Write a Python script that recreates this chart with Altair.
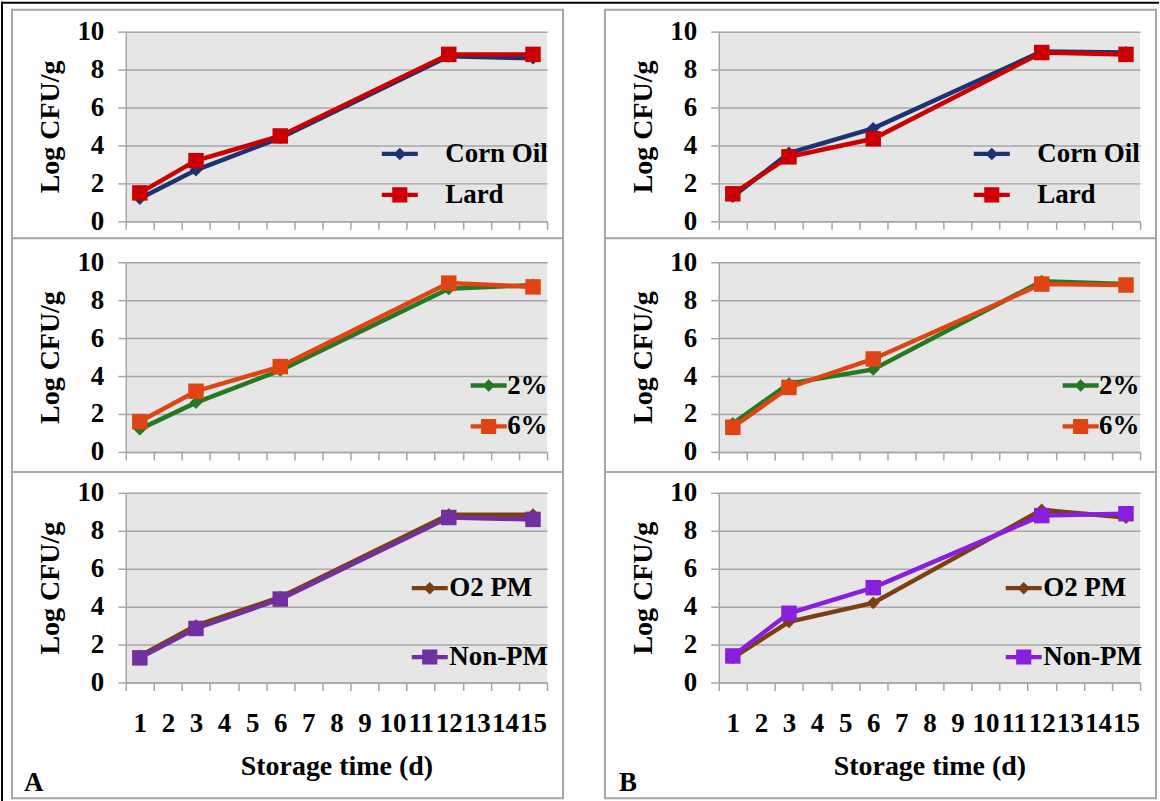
import altair as alt
import pandas as pd

# Storage days sampled and the full day axis
DAYS = [1, 3, 6, 12, 15]
AXIS_DAYS = list(range(1, 16))

# Panel A (log CFU/g)
A_CORN = [1.2, 2.7, 4.4, 8.7, 8.6]
A_LARD = [1.5, 3.2, 4.5, 8.8, 8.8]
A_2 = [1.2, 2.6, 4.3, 8.6, 8.8]
A_6 = [1.6, 3.2, 4.5, 8.9, 8.7]
A_O2 = [1.4, 3.0, 4.5, 8.85, 8.85]
A_NON = [1.3, 2.85, 4.4, 8.7, 8.6]

# Panel B (log CFU/g)
B_CORN = [1.3, 3.6, 4.9, 8.95, 8.9]
B_LARD = [1.45, 3.4, 4.35, 8.9, 8.8]
B_2 = [1.5, 3.6, 4.35, 9.0, 8.85]
B_6 = [1.3, 3.4, 4.9, 8.85, 8.8]
B_O2 = [1.3, 3.2, 4.2, 9.1, 8.7]
B_NON = [1.4, 3.65, 5.0, 8.8, 8.9]

FAT_NAMES = ["Corn Oil", "Lard"]
LEVEL_NAMES = ["2%", "6%"]
PACK_NAMES = ["O2 PM", "Non-PM"]

FAT_COLORS = ["#1c3272", "#cc0000"]
LEVEL_COLORS = ["#237a23", "#e04412"]
PACK_COLORS_A = ["#7b3f12", "#7030a0"]
PACK_COLORS_B = ["#7b3f12", "#8a1ee0"]

FONT = "Liberation Serif"
GRAY = "#a6a6a6"
W, H = 422, 190

# legend keys: a short line segment with the series marker on it
DIAMOND_KEY = "M-1,-0.12L1,-0.12L1,0.12L-1,0.12Z M0,-0.35L0.35,0L0,0.35L-0.35,0Z"
SQUARE_KEY = "M-1,-0.12L1,-0.12L1,0.12L-1,0.12Z M-0.42,-0.42L0.42,-0.42L0.42,0.42L-0.42,0.42Z"
KEY_SIZE = 1300

ONE = alt.Data(values=[{}])


def hrule(x1, x2, y, color, w):
    return alt.Chart(ONE).mark_rule(color=color, strokeWidth=w).encode(
        x=alt.value(x1), x2=alt.value(x2), y=alt.value(y))


def vrule(x, y1, y2, color, w):
    return alt.Chart(ONE).mark_rule(color=color, strokeWidth=w).encode(
        x=alt.value(x), y=alt.value(y1), y2=alt.value(y2))


def box(x1, x2, y1, y2):
    return alt.Chart(ONE).mark_rect(fillOpacity=0, stroke=GRAY, strokeWidth=2).encode(
        x=alt.value(x1), x2=alt.value(x2), y=alt.value(y1), y2=alt.value(y2))


def panel(names, series, colors, leg_x, leg_y, row_pad, label_offset,
          bottom=False, letter=None, letter_x=0, extra=None):
    rows = []
    for n, vals in zip(names, series):
        for d, v in zip(DAYS, vals):
            rows.append({"day": d, "cfu": v, "series": n})
    df = pd.DataFrame(rows)

    x = alt.X(
        "day:O",
        scale=alt.Scale(type="band", domain=AXIS_DAYS, paddingInner=0, paddingOuter=0),
        bandPosition=0.5,
        axis=alt.Axis(
            title="Storage time (d)" if bottom else None,
            labels=bottom, labelAngle=0, tickBand="extent", grid=False,
            labelOverlap=False, labelBound=False, labelPadding=20,
            titlePadding=16,
        ),
    )
    y = alt.Y(
        "cfu:Q",
        scale=alt.Scale(domain=[0, 10], nice=False),
        axis=alt.Axis(values=[0, 2, 4, 6, 8, 10], title="Log CFU/g",
                      grid=True, labelPadding=14, titlePadding=12),
    )
    base = alt.Chart(df)

    layers = []
    if extra:
        layers.extend(extra)
    for n, col, shp, size in zip(names, colors, ["diamond", "square"], [165, 240]):
        sub = base.transform_filter(alt.datum.series == n)
        layers.append(sub.mark_line(strokeWidth=4.5, color=col).encode(x=x, y=y))
        layers.append(sub.mark_point(shape=shp, filled=True, size=size, opacity=1,
                                     color=col).encode(x=x, y=y))

    lg = alt.Legend(
        orient="none", legendX=leg_x, legendY=leg_y, title=None, padding=0,
        direction="vertical", rowPadding=row_pad, labelOffset=label_offset,
        symbolSize=KEY_SIZE, symbolStrokeWidth=0, symbolOpacity=1,
        labelFont=FONT, labelFontSize=27, labelFontWeight="bold", labelColor="black",
    )
    # key-only layer: no rows survive the filter, the legend comes from the scale domains
    layers.append(
        base.transform_filter("false").mark_point(filled=True, opacity=1, size=KEY_SIZE).encode(
            x=x, y=y,
            color=alt.Color("series:N", scale=alt.Scale(domain=names, range=colors), legend=lg),
            shape=alt.Shape("series:N", scale=alt.Scale(domain=names, range=[DIAMOND_KEY, SQUARE_KEY]),
                            legend=lg),
        )
    )
    if letter:
        layers.append(alt.Chart(ONE).mark_text(
            text=letter, font=FONT, fontSize=27, fontWeight="bold", align="left",
            baseline="alphabetic", color="black").encode(x=alt.value(letter_x), y=alt.value(299)))
    return alt.layer(*layers).properties(width=W, height=H)


# page frame: black top/left edge and two grey cells split in three rows
frame = [
    hrule(-125, 1035, -29, "black", 2),
    vrule(-124, -30, 771, "black", 2),
    box(-114, 438, -22, 768),
    box(480, 1032, -22, 768),
    hrule(-114, 438, 207, GRAY, 2),
    hrule(-114, 438, 441, GRAY, 2),
    hrule(480, 1032, 207, GRAY, 2),
    hrule(480, 1032, 441, GRAY, 2),
]

p1 = panel(FAT_NAMES, [A_CORN, A_LARD], FAT_COLORS, 256, 104, 9, 27, extra=frame)
p2 = panel(FAT_NAMES, [B_CORN, B_LARD], FAT_COLORS, 255, 104, 9, 27)
p3 = panel(LEVEL_NAMES, [A_2, A_6], LEVEL_COLORS, 345, 105, 9, 0)
p4 = panel(LEVEL_NAMES, [B_2, B_6], LEVEL_COLORS, 344, 105, 9, 0)
p5 = panel(PACK_NAMES, [A_O2, A_NON], PACK_COLORS_A, 286, 77, 37, 1,
           bottom=True, letter="A", letter_x=-102)
p6 = panel(PACK_NAMES, [B_O2, B_NON], PACK_COLORS_B, 287, 77, 37, 1,
           bottom=True, letter="B", letter_x=-100)

chart = alt.concat(
    p1, p2, p3, p4, p5, p6, columns=2,
    spacing={"row": 41, "column": 172}, bounds="flush",
).resolve_scale(
    color="independent", shape="independent",
).resolve_legend(
    color="independent", shape="independent",
).properties(
    padding={"left": 0, "top": 0, "right": 0, "bottom": 0},
    background="white",
).configure_view(
    fill="#e6e6e6", stroke=None,
).configure_axis(
    domainColor=GRAY, domainWidth=1.5, tickColor=GRAY, tickWidth=1.5, tickSize=8,
    gridColor=GRAY, gridWidth=1.5,
    labelFont=FONT, labelFontSize=27, labelFontWeight="bold", labelColor="black",
    titleFont=FONT, titleFontSize=28, titleFontWeight="bold", titleColor="black",
)

chart.save("out.html", embed_options={"renderer": "svg", "actions": False})
